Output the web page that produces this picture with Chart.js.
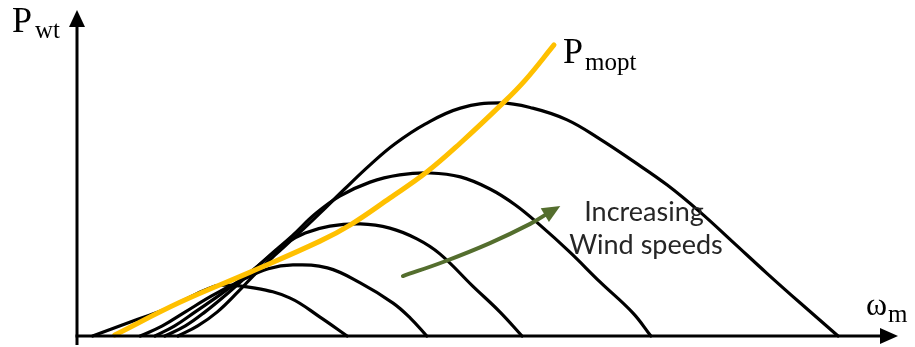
<!DOCTYPE html>
<html>
<head>
<meta charset="utf-8">
<script src="https://cdn.jsdelivr.net/npm/chart.js@4/dist/chart.umd.min.js"></script>
<style>
  html, body { margin: 0; padding: 0; background: #ffffff; }
  #wrap { width: 915px; height: 347px; }
</style>
</head>
<body>
<div id="wrap"><canvas id="c" width="915" height="347"></canvas></div>
<script>
// Turbine power vs. rotor speed, one curve per wind speed (arbitrary units, 0-100 on both axes)
const windSpeeds = ['v1', 'v2', 'v3', 'v4', 'v5'];

const omegaV1 = [1.9, 6.5, 10.5, 13.8, 15.6, 17.4, 21.7, 25.9, 29.6, 32.9];
const powerV1 = [0, 4.3, 8.0, 12.0, 14.1, 15.6, 14.7, 11.7, 5.8, 0];

const omegaV2 = [7.7, 10.4, 13.2, 16.4, 19.9, 23.3, 26.3, 30.5, 34.5, 38.5, 40.6, 42.6];
const powerV2 = [0, 3.1, 7.4, 12.3, 16.9, 20.6, 21.8, 20.9, 16.3, 10.1, 5.5, 0];

const omegaV3 = [9.5, 11.9, 14.4, 17.4, 20.5, 22.9, 25.3, 27.8, 30.8, 34.5, 38.1, 41.4, 44.2, 48.2, 51.5, 54.2];
const powerV3 = [0, 3.1, 7.4, 12.6, 18.4, 23.3, 28.2, 31.6, 33.7, 34.4, 33.1, 29.8, 25.2, 15.3, 7.4, 0];

const omegaV4 = [10.7, 13.2, 15.6, 18.4, 21.1, 23.5, 26.2, 29.0, 32.0, 35.7, 39.3, 43.0, 46.7, 50.3, 53.4, 56.4, 60.0, 63.7, 67.7, 69.9];
const powerV4 = [0, 3.1, 7.4, 13.2, 19.3, 24.8, 30.7, 37.4, 42.9, 47.2, 49.4, 50.0, 48.8, 45.1, 40.2, 34.0, 25.8, 16.6, 7.1, 0];

const omegaV5 = [12.3, 14.7, 17.1, 19.6, 21.8, 24.1, 26.8, 29.6, 32.6, 35.7, 38.7, 42.4, 46.7, 51.5, 55.5, 59.7, 63.7, 67.7, 71.9, 75.9, 79.9, 84.0, 88.1, 92.7];
const powerV5 = [0, 3.1, 7.4, 13.5, 19.3, 24.8, 31.0, 37.7, 45.1, 52.5, 58.9, 65.0, 69.9, 71.5, 69.9, 66.3, 60.4, 53.7, 46.3, 38.0, 28.8, 19.3, 10.1, 0];

// Optimal power locus through the peaks
const omegaOpt = [4.6, 12.6, 21.1, 29.6, 33.3, 38.1, 42.6, 46.7, 51.9, 54.6, 58.1];
const powerOpt = [0.3, 10.4, 19.6, 29.1, 34.1, 42.3, 50.3, 59.2, 71.5, 78.5, 89.3];

// "Increasing wind speeds" arrow path
const omegaArrow = [39.7, 44.6, 50.3, 55.2, 57.4];
const powerArrow = [18.4, 22.7, 28.5, 34.4, 37.7];

const AXIS_MAX_X = 100;
const AXIS_MAX_Y = 100;

const zip = (xs, ys) => xs.map((x, i) => ({ x, y: ys[i] }));

const curveSets = [
  [omegaV1, powerV1], [omegaV2, powerV2], [omegaV3, powerV3], [omegaV4, powerV4], [omegaV5, powerV5]
];

const datasets = curveSets.map(([xs, ys], i) => ({
  label: windSpeeds[i],
  data: zip(xs, ys),
  borderColor: '#000000',
  borderWidth: 3.2,
  pointRadius: 0,
  tension: 0.4,
  fill: false,
  order: 10 + i
}));

datasets.push({
  label: 'Pmopt',
  data: zip(omegaOpt, powerOpt),
  borderColor: '#FFC000',
  borderWidth: 5,
  pointRadius: 0,
  tension: 0.4,
  fill: false,
  order: 0
});

datasets.push({
  label: 'arrow',
  data: zip(omegaArrow, powerArrow),
  borderColor: '#546E2E',
  borderWidth: 4,
  pointRadius: 0,
  tension: 0.4,
  fill: false,
  order: 1
});

// Axes with arrowheads, arrow tip on the green path and the text labels
const decorations = {
  id: 'decorations',
  afterDatasetsDraw(chart) {
    const { ctx, scales: { x, y } } = chart;
    const x0 = x.getPixelForValue(0);
    const y0 = y.getPixelForValue(0);
    const xEnd = x.getPixelForValue(AXIS_MAX_X);
    const yEnd = y.getPixelForValue(AXIS_MAX_Y);

    ctx.save();
    ctx.strokeStyle = '#000';
    ctx.fillStyle = '#000';
    ctx.lineWidth = 3;
    ctx.lineCap = 'butt';

    // vertical axis
    ctx.beginPath();
    ctx.moveTo(x0, y0 + 9);
    ctx.lineTo(x0, yEnd + 14);
    ctx.stroke();
    ctx.beginPath();
    ctx.moveTo(x0, yEnd);
    ctx.lineTo(x0 - 8, yEnd + 17);
    ctx.lineTo(x0 + 8, yEnd + 17);
    ctx.closePath();
    ctx.fill();

    // horizontal axis
    ctx.beginPath();
    ctx.moveTo(x0 - 1.5, y0);
    ctx.lineTo(xEnd - 14, y0);
    ctx.stroke();
    ctx.beginPath();
    ctx.moveTo(xEnd, y0);
    ctx.lineTo(xEnd - 18, y0 - 8);
    ctx.lineTo(xEnd - 18, y0 + 8);
    ctx.closePath();
    ctx.fill();

    // arrowhead on the wind-speed arrow
    const n = omegaArrow.length;
    const ax = x.getPixelForValue(omegaArrow[n - 1]);
    const ay = y.getPixelForValue(powerArrow[n - 1]);
    const bx = x.getPixelForValue(omegaArrow[n - 2]);
    const by = y.getPixelForValue(powerArrow[n - 2]);
    const len = Math.hypot(ax - bx, ay - by);
    const ux = (ax - bx) / len, uy = (ay - by) / len;
    const px = -uy, py = ux;
    ctx.fillStyle = '#546E2E';
    ctx.beginPath();
    ctx.moveTo(ax + ux * 14, ay + uy * 14);
    ctx.lineTo(ax - ux * 4 + px * 8, ay - uy * 4 + py * 8);
    ctx.lineTo(ax - ux * 4 - px * 8, ay - uy * 4 - py * 8);
    ctx.closePath();
    ctx.fill();

    // labels
    ctx.fillStyle = '#000';
    ctx.textBaseline = 'alphabetic';
    ctx.textAlign = 'left';
    const serif = '"Liberation Serif", "DejaVu Serif", serif';

    ctx.font = '36px ' + serif;
    ctx.fillText('P', 12, 32);
    ctx.font = '25px ' + serif;
    ctx.fillText('wt', 35, 38);

    ctx.font = '36px ' + serif;
    ctx.fillText('P', 563, 63);
    ctx.font = '25px ' + serif;
    ctx.fillText('mopt', 585, 70);

    ctx.font = '32px ' + serif;
    ctx.fillText('\u03C9', 866, 315);
    ctx.font = '25px ' + serif;
    ctx.fillText('m', 888, 322);

    ctx.fillStyle = '#262626';
    ctx.textAlign = 'center';
    ctx.font = '27px Lato, "Open Sans", sans-serif';
    ctx.fillText('Increasing', 644, 221);
    ctx.fillText('Wind speeds', 646, 254);

    ctx.restore();
  }
};

new Chart(document.getElementById('c'), {
  type: 'line',
  data: { datasets },
  options: {
    responsive: false,
    devicePixelRatio: 1,
    animation: false,
    clip: false,
    layout: { padding: { left: 77, right: 17, top: 10, bottom: 11 } },
    scales: {
      x: { type: 'linear', min: 0, max: AXIS_MAX_X, display: false },
      y: { type: 'linear', min: 0, max: AXIS_MAX_Y, display: false }
    },
    plugins: { legend: { display: false }, tooltip: { enabled: false } },
    elements: { line: { borderCapStyle: 'round', borderJoinStyle: 'round' } }
  },
  plugins: [decorations]
});
</script>
</body>
</html>
